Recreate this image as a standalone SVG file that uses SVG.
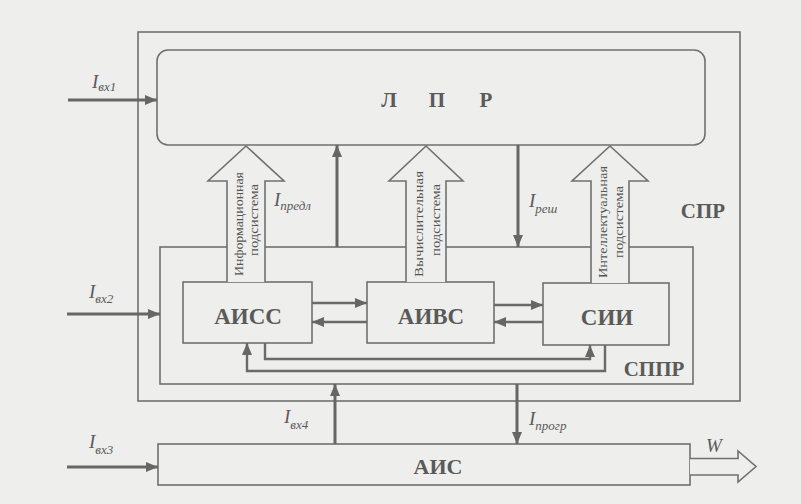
<svg xmlns="http://www.w3.org/2000/svg" width="801" height="504" viewBox="0 0 801 504">
<style>
.box{fill:none;stroke:#707070;stroke-width:1.6}
.ln{fill:none;stroke:#666;stroke-width:3}
.fb{fill:none;stroke:#6a6a6a;stroke-width:2.4}
.blk{fill:#eeeeec;stroke:#707070;stroke-width:1.6}
.lbl{font-family:"Liberation Serif",serif;font-weight:bold;fill:#5a5a5a;text-anchor:middle}
.it{font-family:"Liberation Serif",serif;font-style:italic;fill:#5a5a5a}
.vt{font-family:"Liberation Serif",serif;font-size:12px;fill:#555;text-anchor:middle}
</style>
<defs>
<marker id="ah" markerUnits="userSpaceOnUse" markerWidth="12" markerHeight="10" refX="12" refY="5" orient="auto">
<path d="M0,0 L12,5 L0,10 z" fill="#666"/>
</marker>
</defs>
<rect x="0" y="0" width="801" height="504" fill="#eeeeec"/>
<g id="spr">
<rect class="box" x="138" y="32" width="602" height="369"/>
<text class="lbl" x="703" y="218" font-size="21">СПР</text>
</g>
<g id="lpr">
<rect class="box" x="157" y="50" width="548" height="95" rx="11"/>
<text class="lbl" x="389 437 486" y="107" font-size="21">ЛПР</text>
</g>
<g id="sppr">
<rect class="box" x="160" y="247" width="533" height="137"/>
<text class="lbl" x="654" y="376" font-size="21">СППР</text>
</g>
<g id="aiss">
<rect class="box" x="183" y="282" width="129" height="61"/>
<text class="lbl" x="248" y="324" font-size="23">АИСС</text>
</g>
<g id="aivs">
<rect class="box" x="367" y="282" width="127" height="61"/>
<text class="lbl" x="431" y="324" font-size="23">АИВС</text>
</g>
<g id="sii">
<rect class="box" x="543" y="283" width="126" height="62"/>
<text class="lbl" x="607" y="325" font-size="23">СИИ</text>
</g>
<g id="ais">
<rect class="box" x="158" y="444" width="532" height="41"/>
<text class="lbl" x="438" y="474" font-size="22">АИС</text>
</g>
<g id="connectors">
<path class="blk" d="M227,282 L227,181 L208,181 L246,146 L284,181 L265,181 L265,282"/>
<path class="blk" d="M406,282 L406,181 L389,181 L426,146 L463,181 L446,181 L446,282"/>
<path class="blk" d="M591,283 L591,181 L572,181 L610,146 L648,181 L629,181 L629,283"/>
<path class="blk" d="M690,458.5 L738,458.5 L738,451 L756,466.5 L738,482 L738,475 L690,475"/>
<line class="ln" x1="68" y1="100" x2="157" y2="100" marker-end="url(#ah)"/>
<line class="ln" x1="67" y1="314" x2="160" y2="314" marker-end="url(#ah)"/>
<line class="ln" x1="67" y1="467" x2="158" y2="467" marker-end="url(#ah)"/>
<line class="ln" x1="337" y1="247" x2="337" y2="145" marker-end="url(#ah)"/>
<line class="ln" x1="518" y1="145" x2="518" y2="247" marker-end="url(#ah)"/>
<line class="ln" x1="335" y1="444" x2="335" y2="384" marker-end="url(#ah)"/>
<line class="ln" x1="517" y1="384" x2="517" y2="444" marker-end="url(#ah)"/>
<line class="fb" x1="312" y1="303" x2="367" y2="303" marker-end="url(#ah)"/>
<line class="fb" x1="367" y1="322" x2="312" y2="322" marker-end="url(#ah)"/>
<line class="fb" x1="494" y1="305" x2="543" y2="305" marker-end="url(#ah)"/>
<line class="fb" x1="543" y1="322" x2="494" y2="322" marker-end="url(#ah)"/>
<polyline class="fb" points="265,343 265,359 590,359 590,345" marker-end="url(#ah)"/>
<polyline class="fb" points="605,345 605,371 247,371 247,343" marker-end="url(#ah)"/>
</g>
<g id="labels">
<text class="vt" transform="translate(243,224) rotate(-90)" textLength="104" lengthAdjust="spacingAndGlyphs">Информационная</text>
<text class="vt" transform="translate(258,220) rotate(-90)" textLength="72" lengthAdjust="spacingAndGlyphs">подсистема</text>
<text class="vt" transform="translate(423,224) rotate(-90)" textLength="106" lengthAdjust="spacingAndGlyphs">Вычислительная</text>
<text class="vt" transform="translate(440,220) rotate(-90)" textLength="72" lengthAdjust="spacingAndGlyphs">подсистема</text>
<text class="vt" transform="translate(607,222) rotate(-90)" textLength="112" lengthAdjust="spacingAndGlyphs">Интеллектуальная</text>
<text class="vt" transform="translate(623,222) rotate(-90)" textLength="72" lengthAdjust="spacingAndGlyphs">подсистема</text>
<text class="it" x="92" y="88" font-size="19">I<tspan font-size="13" dy="3">вх1</tspan></text>
<text class="it" x="89" y="298" font-size="19">I<tspan font-size="13" dy="5">вх2</tspan></text>
<text class="it" x="89" y="448" font-size="19">I<tspan font-size="13" dy="6">вх3</tspan></text>
<text class="it" x="284" y="423" font-size="19">I<tspan font-size="13" dy="6">вх4</tspan></text>
<text class="it" x="274" y="206" font-size="19">I<tspan font-size="13" dy="4">предл</tspan></text>
<text class="it" x="529" y="207" font-size="19">I<tspan font-size="13" dy="6">реш</tspan></text>
<text class="it" x="529" y="425" font-size="19">I<tspan font-size="13" dy="5">прогр</tspan></text>
<text class="it" x="706" y="452" font-size="19">W</text>
</g>
</svg>
